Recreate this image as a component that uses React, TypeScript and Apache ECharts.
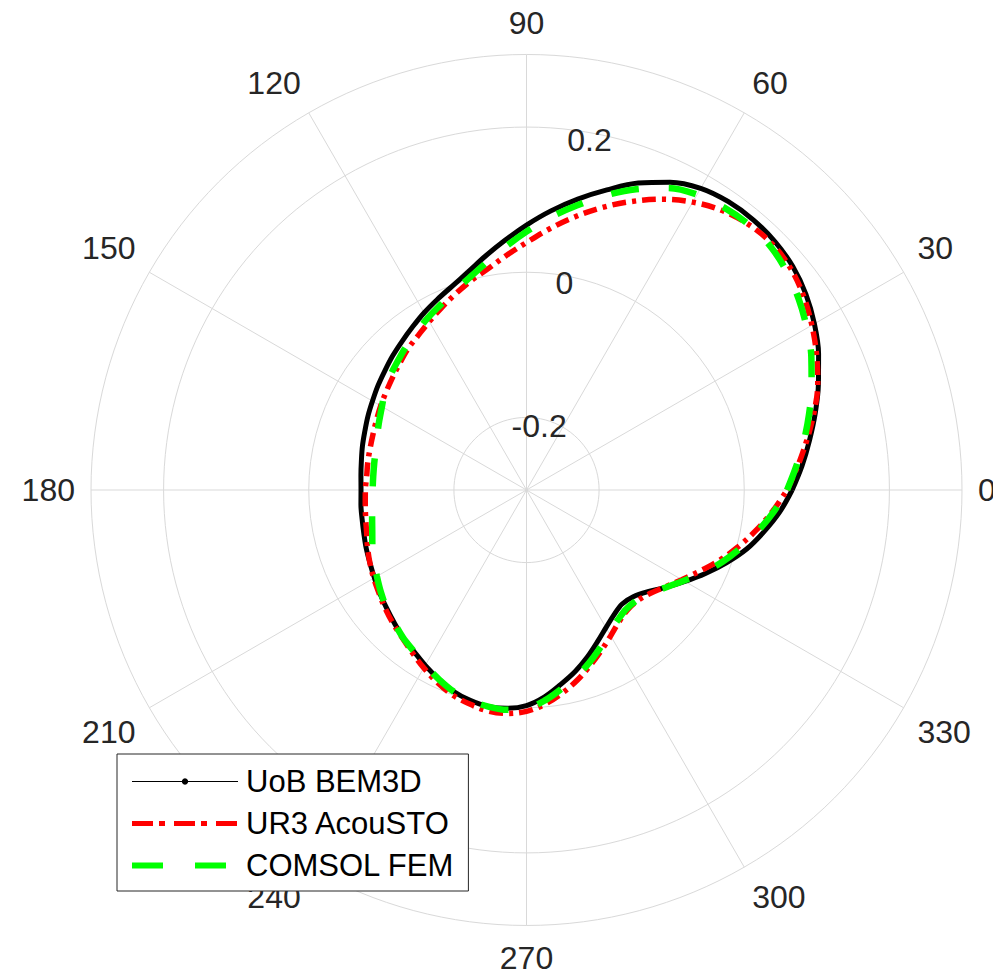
import React, { useEffect, useRef } from 'react';
import * as echarts from 'echarts';

// Polar angles (degrees) at which the three curves were read
const ANGLES_DEG = [
  0, 5, 10, 15, 20, 25, 30, 35, 40, 45, 50, 55, 60, 65, 70, 75, 80, 85, 90,
  95, 100, 105, 110, 115, 120, 125, 130, 135, 140, 145, 150, 155, 160, 165, 170, 175, 180,
  185, 190, 195, 200, 205, 210, 215, 220, 225, 230, 235, 240, 245, 250, 255, 260, 265, 270,
  275, 280, 285, 290, 295, 300, 305, 310, 315, 320, 325, 330, 335, 340, 345, 350, 355, 360,
];

const UOB_BEM3D = [
  0.066, 0.081, 0.096, 0.112, 0.128, 0.144, 0.158, 0.170, 0.179, 0.184, 0.186, 0.185, 0.180, 0.168, 0.150, 0.128, 0.107, 0.086, 0.065,
  0.045, 0.027, 0.011, -0.001, -0.010, -0.018, -0.026, -0.033, -0.039, -0.045, -0.050, -0.055, -0.059, -0.063, -0.066, -0.069, -0.071, -0.072,
  -0.071, -0.070, -0.068, -0.065, -0.062, -0.058, -0.053, -0.048, -0.042, -0.035, -0.029, -0.021, -0.013, -0.005, 0.000, 0.003, 0.002, -0.003,
  -0.014, -0.028, -0.041, -0.055, -0.069, -0.081, -0.090, -0.095, -0.092, -0.082, -0.066, -0.048, -0.028, -0.007, 0.014, 0.032, 0.050, 0.066,
];

const UR3_ACOUSTO = [
  0.059, 0.075, 0.092, 0.110, 0.127, 0.141, 0.154, 0.166, 0.175, 0.179, 0.177, 0.170, 0.158, 0.142, 0.123, 0.103, 0.082, 0.061, 0.041,
  0.024, 0.009, -0.002, -0.013, -0.023, -0.032, -0.040, -0.046, -0.053, -0.059, -0.064, -0.068, -0.072, -0.075, -0.077, -0.078, -0.079, -0.078,
  -0.077, -0.075, -0.072, -0.067, -0.062, -0.057, -0.052, -0.046, -0.040, -0.034, -0.026, -0.017, -0.008, 0.000, 0.005, 0.009, 0.009, 0.005,
  -0.004, -0.016, -0.029, -0.043, -0.056, -0.068, -0.078, -0.084, -0.084, -0.078, -0.067, -0.053, -0.036, -0.017, 0.002, 0.021, 0.040, 0.059,
];

const COMSOL_FEM = [
  0.059, 0.073, 0.088, 0.103, 0.118, 0.133, 0.146, 0.158, 0.168, 0.175, 0.177, 0.175, 0.170, 0.159, 0.141, 0.120, 0.098, 0.077, 0.056,
  0.036, 0.018, 0.003, -0.009, -0.019, -0.027, -0.035, -0.042, -0.049, -0.055, -0.062, -0.070, -0.076, -0.081, -0.085, -0.087, -0.088, -0.088,
  -0.087, -0.084, -0.080, -0.074, -0.068, -0.062, -0.055, -0.048, -0.042, -0.035, -0.029, -0.021, -0.013, -0.005, 0.000, 0.003, 0.004, 0.001,
  -0.009, -0.022, -0.034, -0.047, -0.060, -0.072, -0.081, -0.086, -0.085, -0.078, -0.066, -0.050, -0.031, -0.012, 0.006, 0.024, 0.042, 0.059,
];

const SERIES_NAMES = ['UoB BEM3D', 'UR3 AcouSTO', 'COMSOL FEM'];
const RADIAL_TICK_LABELS = ['-0.2', '0', '0.2'];
const R_MIN = -0.3;
const R_MAX = 0.3;
const R_STEP = 0.1;
const ANGLE_STEP = 30;

const FONT = "'Liberation Sans', Arial, Helvetica, sans-serif";
const GRID = '#d9d9d9';
const CENTER = [526.5, 490];
const LABEL_CENTER = [526.5, 497];
const RADIUS = 435.5;

export default function App() {
  const ref = useRef<HTMLDivElement | null>(null);

  useEffect(() => {
    if (!ref.current) return;
    const chart = echarts.init(ref.current, undefined, { renderer: 'svg' });

    const toPolar = (vals: number[]) => vals.map((v, i) => [v, ANGLES_DEG[i]]);

    const option: any = {
      animation: false,
      backgroundColor: '#ffffff',
      polar: [
        { center: CENTER, radius: RADIUS },
        { center: LABEL_CENTER, radius: RADIUS },
      ],
      angleAxis: [
        {
          polarIndex: 0,
          type: 'value',
          min: 0,
          max: 360,
          interval: ANGLE_STEP,
          startAngle: 0,
          clockwise: false,
          axisLine: { show: true, lineStyle: { color: GRID, width: 1 } },
          axisTick: { show: false },
          axisLabel: { show: true, margin: 16, fontSize: 32, color: '#262626', fontFamily: FONT },
          splitLine: { show: true, lineStyle: { color: GRID, width: 1 } },
        },
        {
          polarIndex: 1,
          type: 'value',
          min: 0,
          max: 360,
          startAngle: 80,
          clockwise: false,
          show: false,
        },
      ],
      radiusAxis: [
        {
          polarIndex: 0,
          type: 'value',
          min: R_MIN,
          max: R_MAX,
          interval: R_STEP,
          axisLine: { show: false },
          axisTick: { show: false },
          axisLabel: { show: false },
          splitLine: { show: true, lineStyle: { color: ['rgba(0,0,0,0)', GRID], width: 1 } },
        },
        {
          polarIndex: 1,
          type: 'value',
          min: R_MIN,
          max: R_MAX,
          interval: R_STEP,
          axisLine: { show: false },
          axisTick: { show: false },
          splitLine: { show: false },
          axisLabel: {
            show: true,
            margin: 0,
            align: 'center',
            verticalAlign: 'middle',
            fontSize: 32,
            color: '#262626',
            fontFamily: FONT,
            formatter: (v: number) => {
              const s = String(Math.round(v * 10) / 10);
              return RADIAL_TICK_LABELS.includes(s) ? s : '';
            },
          },
        },
      ],
      legend: {
        orient: 'vertical',
        left: 117,
        top: 754,
        padding: [12, 14, 10, 12],
        itemWidth: 106,
        itemHeight: 8,
        itemGap: 11,
        backgroundColor: '#ffffff',
        borderColor: '#262626',
        borderWidth: 1,
        borderRadius: 0,
        selectedMode: false,
        textStyle: { fontSize: 31, color: '#000000', fontFamily: FONT, padding: [0, 0, 0, 3] },
        data: [
          { name: SERIES_NAMES[0], lineStyle: { width: 1.2, type: 'solid' }, itemStyle: { borderWidth: 0 } },
          { name: SERIES_NAMES[1], lineStyle: { width: 5, type: [21, 6, 6, 9] }, itemStyle: { opacity: 0, borderWidth: 0 } },
          { name: SERIES_NAMES[2], lineStyle: { width: 6, type: [31, 32] }, itemStyle: { opacity: 0, borderWidth: 0 } },
        ],
      },
      series: [
        {
          name: SERIES_NAMES[0],
          type: 'line',
          coordinateSystem: 'polar',
          polarIndex: 0,
          data: toPolar(UOB_BEM3D),
          symbol: 'none',
          smooth: 0.35,
          itemStyle: { color: '#000000' },
          lineStyle: { color: '#000000', width: 5 },
          z: 3,
        },
        {
          name: SERIES_NAMES[1],
          type: 'line',
          coordinateSystem: 'polar',
          polarIndex: 0,
          data: toPolar(UR3_ACOUSTO),
          symbol: 'none',
          smooth: 0.35,
          itemStyle: { color: '#ff0000' },
          lineStyle: { color: '#ff0000', width: 5.5, type: [14, 6, 4, 6], cap: 'butt' },
          z: 4,
        },
        {
          name: SERIES_NAMES[2],
          type: 'line',
          coordinateSystem: 'polar',
          polarIndex: 0,
          data: toPolar(COMSOL_FEM),
          symbol: 'none',
          smooth: 0.35,
          itemStyle: { color: '#00ff00' },
          lineStyle: { color: '#00ff00', width: 6.5, type: [28, 30], cap: 'butt' },
          z: 5,
        },
      ],
    };

    chart.setOption(option);
    return () => chart.dispose();
  }, []);

  return (
    <div
      ref={ref}
      style={{ position: 'absolute', left: 0, top: 0, width: 993, height: 975, background: '#ffffff' }}
    />
  );
}
